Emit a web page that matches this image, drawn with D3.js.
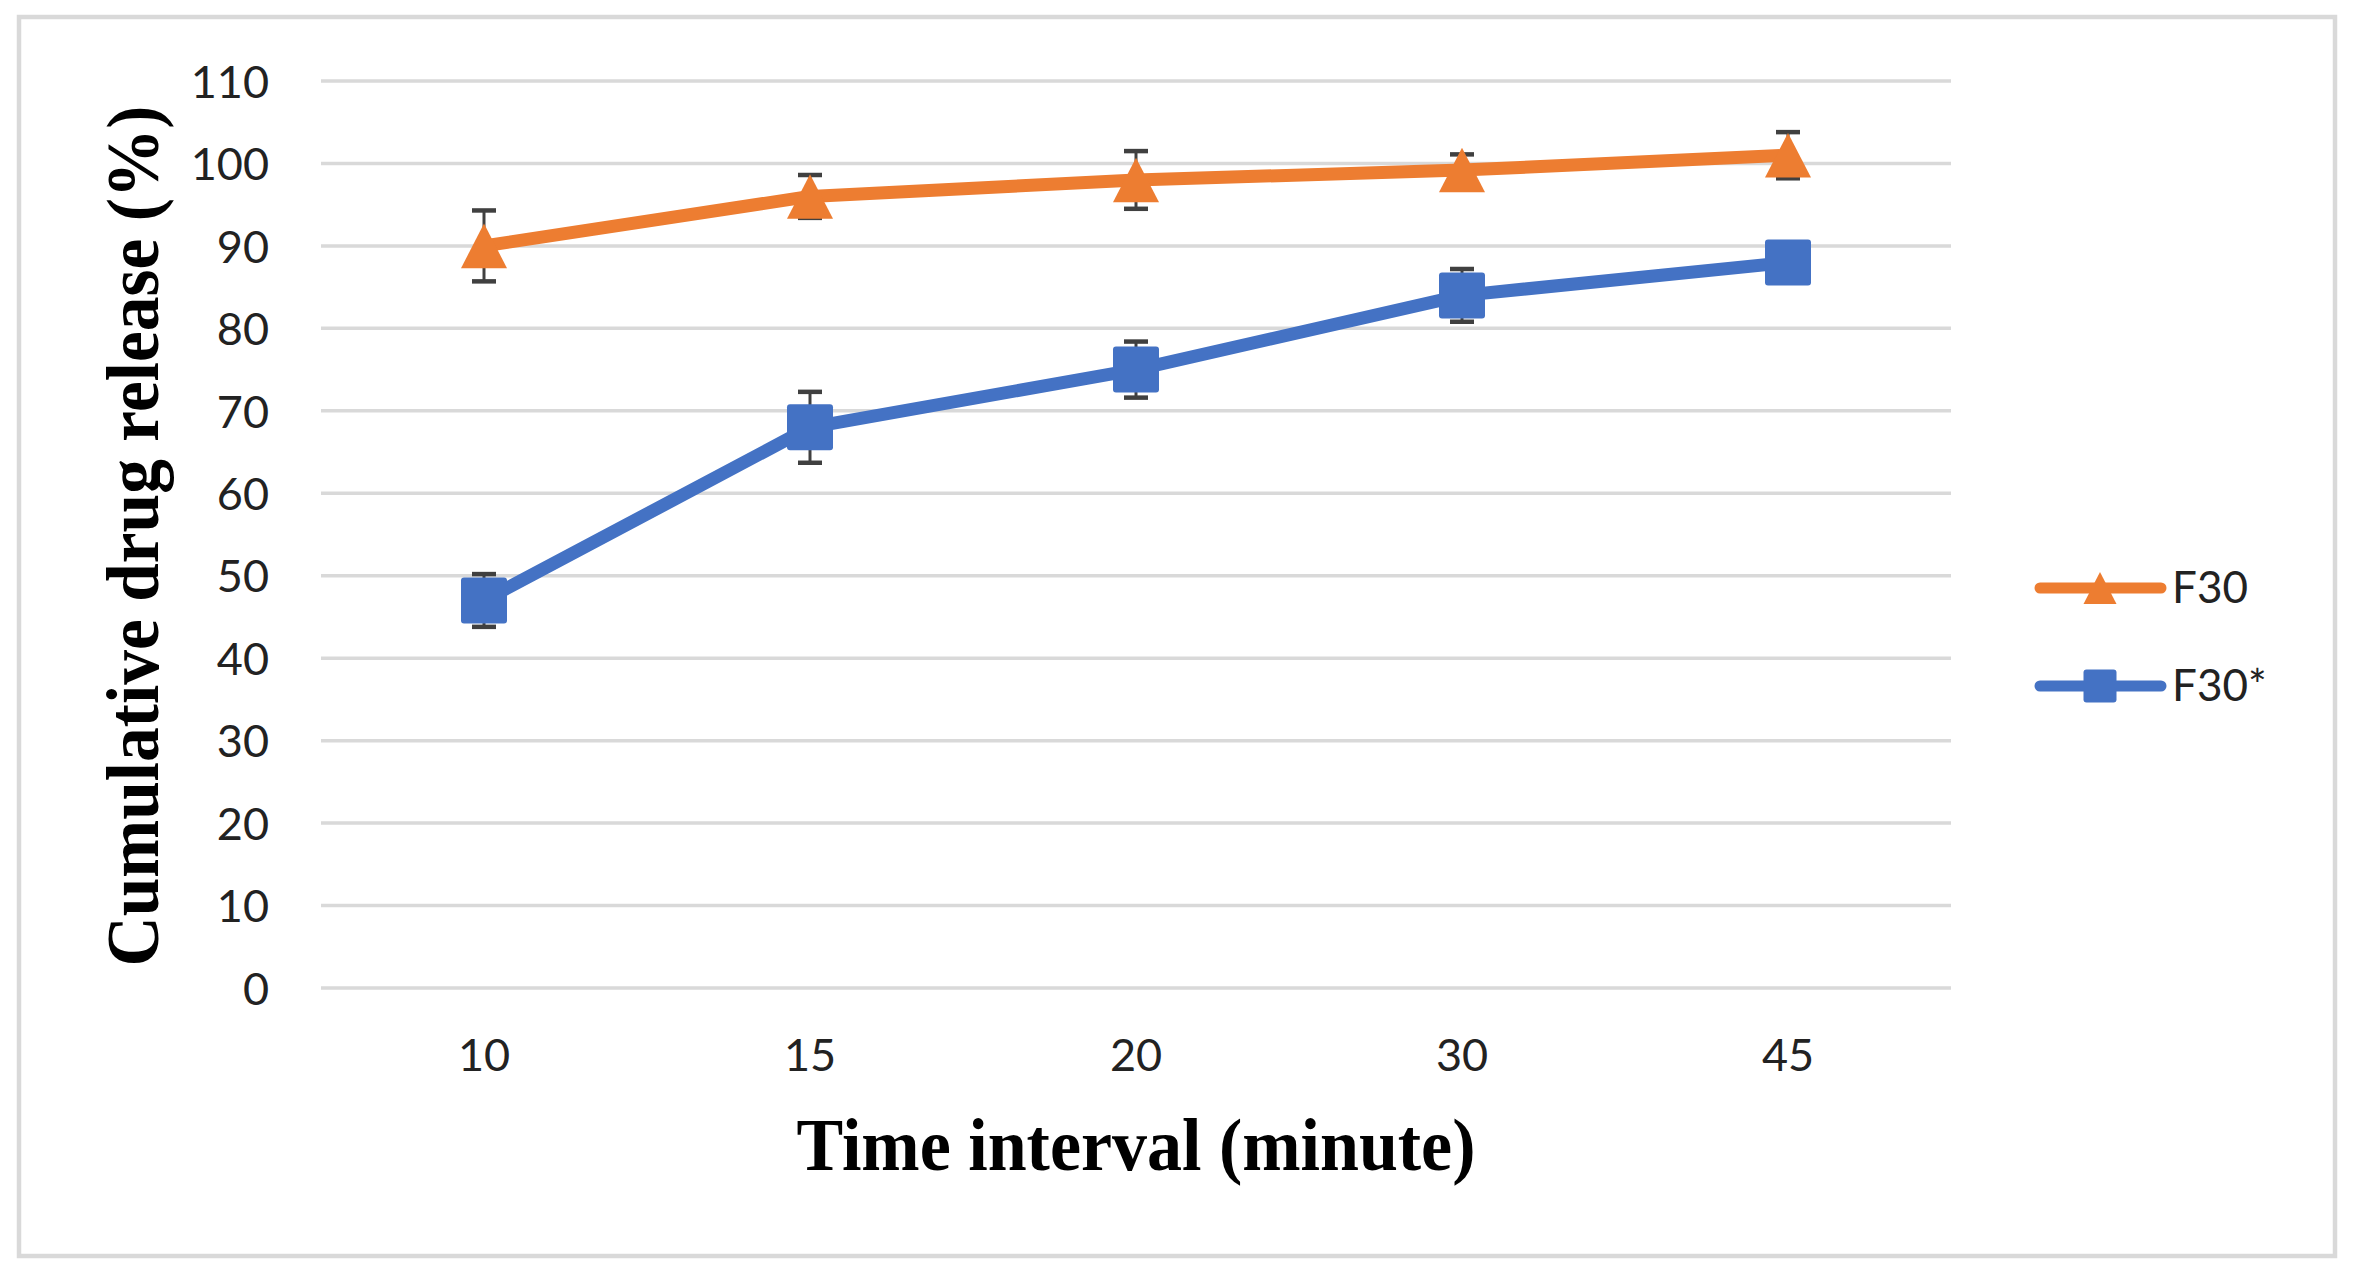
<!DOCTYPE html>
<html>
<head>
<meta charset="utf-8">
<script src="https://cdn.jsdelivr.net/npm/d3@7"></script>
<style>
  body { margin: 0; background: #fff; }
  svg { display: block; }
</style>
</head>
<body>
<div id="chart"></div>
<script>
const categories = ['10', '15', '20', '30', '45'];
const yTicks = [0, 10, 20, 30, 40, 50, 60, 70, 80, 90, 100, 110];

const f30 = [90, 96, 98, 99.2, 101];
const f30Err = [4.3, 2.6, 3.5, 1.9, 2.8];
const f30Star = [47, 68, 75, 84, 88];
const f30StarErr = [3.2, 4.3, 3.4, 3.2, 1.5];

const seriesNames = ['F30', 'F30*'];

const width = 2353;
const height = 1274;
const orange = '#ED7D31';
const blue = '#4472C4';
const tickFont = 'Lato, "Open Sans", sans-serif';
const titleFont = '"Liberation Serif", "Times New Roman", serif';

const svg = d3.select('#chart').append('svg')
  .attr('width', width)
  .attr('height', height)
  .attr('viewBox', [0, 0, width, height]);

// outer frame
svg.append('rect')
  .attr('x', 19).attr('y', 17)
  .attr('width', 2316).attr('height', 1239)
  .attr('fill', '#fff')
  .attr('stroke', '#d9d9d9')
  .attr('stroke-width', 4.5);

const x = d3.scaleBand().domain(categories).range([321, 1951]);
const y = d3.scaleLinear().domain([0, 110]).range([988, 81]);
const cx = (c) => x(c) + x.bandwidth() / 2;

// gridlines
svg.append('g')
  .selectAll('line')
  .data(yTicks)
  .join('line')
  .attr('x1', 321)
  .attr('x2', 1951)
  .attr('y1', (d) => y(d))
  .attr('y2', (d) => y(d))
  .attr('stroke', '#d9d9d9')
  .attr('stroke-width', 3.5);

// y axis labels
const yAxis = svg.append('g')
  .attr('transform', 'translate(269,0)')
  .call(d3.axisLeft(y).tickValues(yTicks).tickSize(0).tickPadding(0));
yAxis.select('.domain').remove();
yAxis.selectAll('text')
  .attr('font-family', tickFont)
  .attr('font-size', 45)
  .attr('fill', '#222')
  .attr('dy', '0.36em');

// x axis labels
const xAxis = svg.append('g')
  .attr('transform', 'translate(0,1071)')
  .call(d3.axisBottom(x).tickSize(0).tickPadding(0));
xAxis.select('.domain').remove();
xAxis.selectAll('text')
  .attr('font-family', tickFont)
  .attr('font-size', 45)
  .attr('fill', '#222')
  .attr('dy', 0);

// axis titles
svg.append('text')
  .attr('x', 1136)
  .attr('y', 1170)
  .attr('text-anchor', 'middle')
  .attr('font-family', titleFont)
  .attr('font-weight', 'bold')
  .attr('font-size', 73)
  .attr('textLength', 679)
  .attr('lengthAdjust', 'spacingAndGlyphs')
  .text('Time interval (minute)');

svg.append('text')
  .attr('transform', 'translate(158,536) rotate(-90)')
  .attr('text-anchor', 'middle')
  .attr('font-family', titleFont)
  .attr('font-weight', 'bold')
  .attr('font-size', 75)
  .attr('textLength', 861)
  .attr('lengthAdjust', 'spacingAndGlyphs')
  .text('Cumulative drug release (%)');

const series = [
  { name: seriesNames[0], values: f30, errs: f30Err, color: orange, shape: 'triangle' },
  { name: seriesNames[1], values: f30Star, errs: f30StarErr, color: blue, shape: 'square' },
];

function drawErrorBars(s) {
  const g = svg.append('g').attr('stroke', '#404040');
  const pts = categories.map((c, i) => ({ c, v: s.values[i], e: s.errs[i] }));
  g.selectAll('line.stem')
    .data(pts)
    .join('line')
    .attr('class', 'stem')
    .attr('x1', (d) => cx(d.c)).attr('x2', (d) => cx(d.c))
    .attr('y1', (d) => y(d.v - d.e)).attr('y2', (d) => y(d.v + d.e))
    .attr('stroke-width', 3);
  ['-', '+'].forEach((sign) => {
    g.selectAll(`line.cap${sign === '-' ? 'lo' : 'hi'}`)
      .data(pts)
      .join('line')
      .attr('class', `cap${sign === '-' ? 'lo' : 'hi'}`)
      .attr('x1', (d) => cx(d.c) - 12).attr('x2', (d) => cx(d.c) + 12)
      .attr('y1', (d) => y(sign === '-' ? d.v - d.e : d.v + d.e))
      .attr('y2', (d) => y(sign === '-' ? d.v - d.e : d.v + d.e))
      .attr('stroke-width', 4.5);
  });
}

function trianglePath(px, py, w, h) {
  return `M${px},${py - h / 2}L${px + w / 2},${py + h / 2}L${px - w / 2},${py + h / 2}Z`;
}

function drawMarker(g, shape, px, py, size, color) {
  if (shape === 'triangle') {
    g.append('path')
      .attr('d', trianglePath(px, py, size, size * 0.97))
      .attr('fill', color);
  } else {
    g.append('rect')
      .attr('x', px - size / 2).attr('y', py - size / 2)
      .attr('width', size).attr('height', size)
      .attr('rx', 3)
      .attr('fill', color);
  }
}

series.forEach(drawErrorBars);

const line = d3.line()
  .x((d) => cx(d.c))
  .y((d) => y(d.v));

series.forEach((s) => {
  const pts = categories.map((c, i) => ({ c, v: s.values[i] }));
  svg.append('path')
    .datum(pts)
    .attr('d', line)
    .attr('fill', 'none')
    .attr('stroke', s.color)
    .attr('stroke-width', 13)
    .attr('stroke-linejoin', 'round')
    .attr('stroke-linecap', 'round');
  const mg = svg.append('g');
  pts.forEach((p) => drawMarker(mg, s.shape, cx(p.c), y(p.v), 46, s.color));
});

// legend
const legend = svg.append('g');
series.forEach((s, i) => {
  const ly = 588 + i * 98;
  legend.append('line')
    .attr('x1', 2040).attr('x2', 2161)
    .attr('y1', ly).attr('y2', ly)
    .attr('stroke', s.color)
    .attr('stroke-width', 11)
    .attr('stroke-linecap', 'round');
  drawMarker(legend, s.shape, 2100, ly, 33, s.color);
  legend.append('text')
    .attr('x', 2172)
    .attr('y', ly + 15)
    .attr('font-family', tickFont)
    .attr('font-size', 44)
    .attr('fill', '#222')
    .text(s.name);
});
</script>
</body>
</html>
